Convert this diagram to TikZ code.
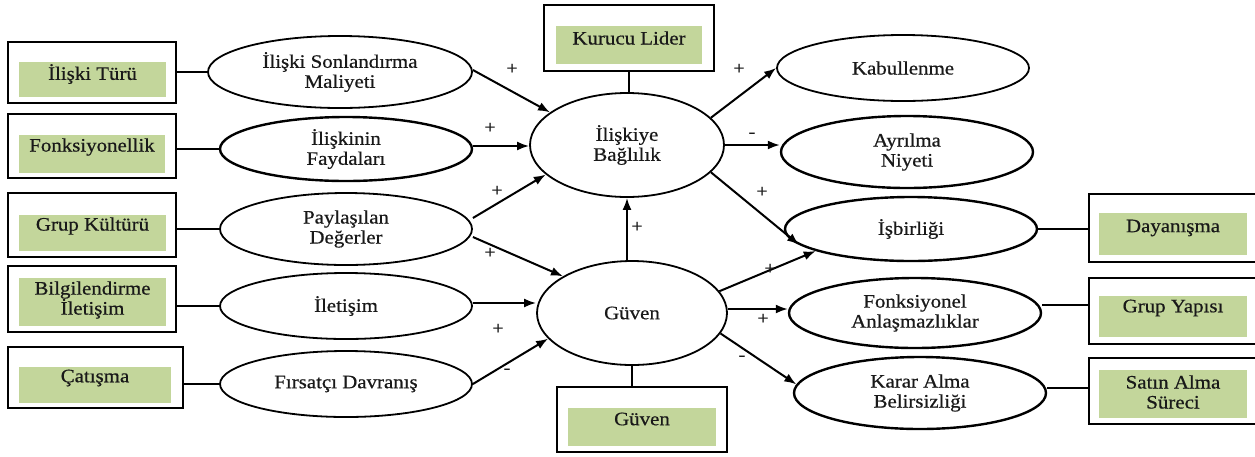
\documentclass[tikz,border=0pt]{standalone}
\usepackage{fontspec}
\setmainfont{Liberation Serif}[FakeStretch=1.1,FakeBold=0.6]
\usetikzlibrary{shapes.geometric,arrows.meta,calc}
\definecolor{lgreen}{RGB}{195,214,155}
\begin{document}
\begin{tikzpicture}[x=1pt,y=-1pt,
  every node/.style={font=\fontsize{19}{20}\selectfont, text=black!90},
  ell/.style={draw, ellipse, line width=1.8pt, inner sep=0pt, align=center},
  ellthick/.style={ell, line width=2.4pt},
  obox/.style={draw, rectangle, line width=2pt, inner sep=0pt},
  gfill/.style={fill=lgreen},
  txt/.style={align=center, inner sep=0pt},
  link/.style={line width=2pt},
  arr/.style={line width=2pt, -{Latex[length=12pt,width=9pt]}},
  sgn/.style={font=\fontsize{18}{18}\selectfont, inner sep=0pt}]
\useasboundingbox (0,0) rectangle (1255,456);
\clip (0,0) rectangle (1255,456);

% ---------- left boxes ----------
\node[obox, minimum width=168pt, minimum height=61pt] (b1) at (92,72.5) {};
\fill[gfill] (19,62) rectangle (166,97);
\node[txt] (t1) at (92.5,74) {İlişki Türü};

\node[obox, minimum width=168pt, minimum height=64pt] (b2) at (92,146) {};
\fill[gfill] (19,135) rectangle (165,173);
\node[txt] (t2) at (92,147) {Fonksiyonellik};

\node[obox, minimum width=168pt, minimum height=64pt] (b3) at (92,225) {};
\fill[gfill] (19,215) rectangle (166,251);
\node[txt] (t3) at (92.5,226) {Grup Kültürü};

\node[obox, minimum width=168pt, minimum height=66pt] (b4) at (92,299) {};
\fill[gfill] (19,278) rectangle (166,326);
\node[txt] (t4) at (92.5,300) {Bilgilendirme\\İletişim};

\node[obox, minimum width=175pt, minimum height=61pt] (b5) at (95.5,377.5) {};
\fill[gfill] (19,367) rectangle (171,403);
\node[txt] (t5) at (95,378) {Çatışma};

% ---------- left ellipses ----------
\node[ell, minimum width=264pt, minimum height=72pt] (e1) at (340,72) {İlişki Sonlandırma\\Maliyeti};
\node[ellthick, minimum width=252pt, minimum height=64pt] (e2) at (346,149) {İlişkinin\\Faydaları};
\node[ell, minimum width=252pt, minimum height=72pt] (e3) at (346,229) {Paylaşılan\\Değerler};
\node[ell, minimum width=252pt, minimum height=66pt] (e4) at (346,306) {İletişim};
\node[ell, minimum width=252pt, minimum height=66pt] (e5) at (346,384) {Fırsatçı Davranış};

% ---------- centre ----------
\node[ell, minimum width=194pt, minimum height=104pt] (ib) at (627,145) {İlişkiye\\Bağlılık};
\node[ell, minimum width=190pt, minimum height=104pt] (gv) at (632,313) {Güven};

\node[obox, minimum width=170pt, minimum height=66pt] (kl) at (629,38) {};
\fill[gfill] (556,26) rectangle (702,64);
\node[txt] (tkl) at (629,38) {Kurucu Lider};

\node[obox, minimum width=170pt, minimum height=65pt] (gb) at (642,419.5) {};
\fill[gfill] (568,408) rectangle (716,446);
\node[txt] (tgb) at (642,419) {Güven};

% ---------- right ellipses ----------
\node[ell, minimum width=252pt, minimum height=66pt] (kb) at (903,68) {Kabullenme};
\node[ellthick, minimum width=252pt, minimum height=72pt] (ay) at (907,152) {Ayrılma\\Niyeti};
\node[ellthick, minimum width=252pt, minimum height=64pt] (isb) at (911,229) {İşbirliği};
\node[ellthick, minimum width=252pt, minimum height=70pt] (fa) at (915,313) {Fonksiyonel\\Anlaşmazlıklar};
\node[ellthick, minimum width=252pt, minimum height=72pt] (kr) at (920,393) {Karar Alma\\Belirsizliği};

% ---------- right boxes ----------
\node[obox, minimum width=170pt, minimum height=68pt] (d1) at (1174,228) {};
\fill[gfill] (1099,213) rectangle (1247,255);
\node[txt] (td1) at (1173,228) {Dayanışma};

\node[obox, minimum width=170pt, minimum height=66pt] (d2) at (1174,311) {};
\fill[gfill] (1099,296) rectangle (1247,337);
\node[txt] (td2) at (1173,308) {Grup Yapısı};

\node[obox, minimum width=170pt, minimum height=66pt] (d3) at (1174,391) {};
\fill[gfill] (1099,370) rectangle (1247,418);
\node[txt] (td3) at (1173,392) {Satın Alma\\Süreci};

% ---------- plain links ----------
\draw[link] (e1.west) -- (e1.west -| b1.east);
\draw[link] (e2.west) -- (e2.west -| b2.east);
\draw[link] (e3.west) -- (e3.west -| b3.east);
\draw[link] (e4.west) -- (e4.west -| b4.east);
\draw[link] (e5.west) -- (e5.west -| b5.east);
\draw[link] (kl.south) -- (kl.south |- ib.north);
\draw[link] (gv.south) -- (gv.south |- gb.north);
\draw[link] (isb.east) -- (isb.east -| d1.west);
\draw[link] ([yshift=8pt]fa.east) -- ([yshift=8pt]fa.east -| d2.west);
\draw[link] ([yshift=5pt]kr.east) -- ([yshift=5pt]kr.east -| d3.west);

% ---------- arrows ----------
\draw[arr] ([yshift=2pt]e1.east) -- (ib.157);
\draw[arr] ([yshift=3pt]e2.east) -- ([yshift=3pt]e2.east -| ib.west);
\draw[arr] ([yshift=11pt]e3.east) -- (ib.200);
\draw[arr] ([yshift=-8pt]e3.east) -- (gv.152);
\draw[arr] ([yshift=3pt]e4.east) -- ([yshift=3pt]e4.east -| gv.west);
\draw[arr] (e5.east) -- (gv.197);
\draw[arr] (ib.south |- gv.north) -- (ib.south);
\draw[arr] (ib.18) -- (kb.west);
\draw[arr] (ib.east) -- (ib.east -| ay.west);
\draw[arr] (ib.-18) -- (isb.188);
\draw[arr] (gv.14) -- (isb.193);
\draw[arr] ([yshift=4pt]gv.east) -- ([yshift=4pt]gv.east -| fa.west);
\draw[arr] (gv.-13) -- (kr.176);

% ---------- signs ----------
\node[sgn] (s1) at (512,69) {+};
\node[sgn] (s2) at (490,128) {+};
\node[sgn] (s3) at (497,191) {+};
\node[sgn] (s4) at (490,253) {+};
\node[sgn] (s5) at (498,329) {+};
\node[sgn] (s6) at (507,371) {-};
\node[sgn] (s7) at (637,227) {+};
\node[sgn] (s8) at (739,69) {+};
\node[sgn] (s9) at (752,135) {-};
\node[sgn] (s10) at (762,192) {+};
\node[sgn] (s11) at (770,269) {+};
\node[sgn] (s12) at (763,319) {+};
\node[sgn] (s13) at (742,358) {-};
\end{tikzpicture}
\end{document}
